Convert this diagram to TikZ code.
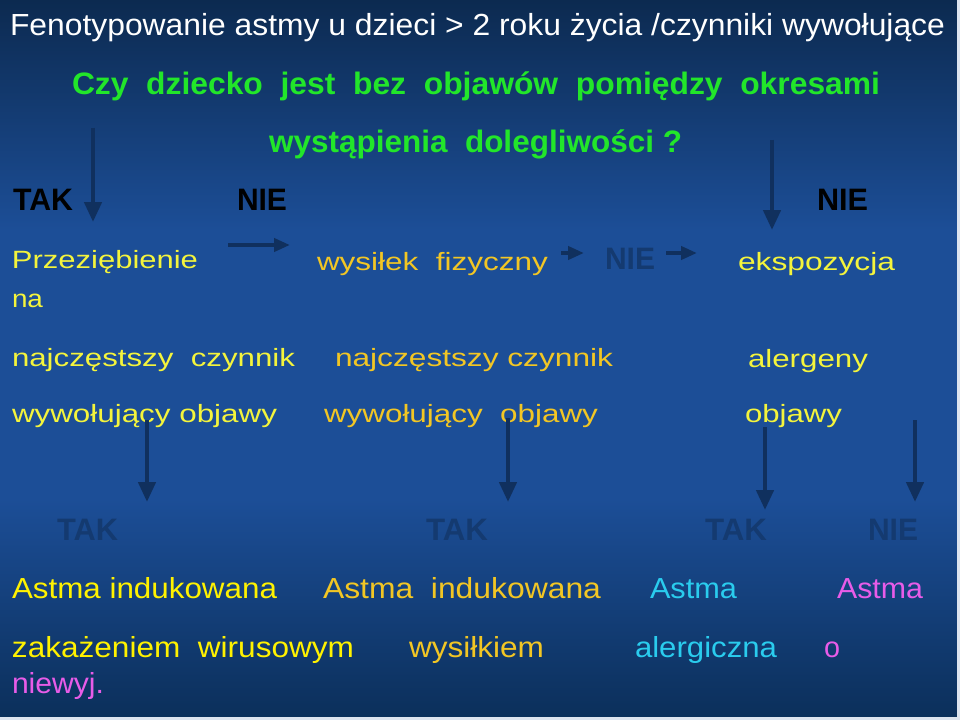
\documentclass[tikz,border=0pt]{standalone}
\usepackage{fontspec}
\setmainfont{Liberation Sans}
\usetikzlibrary{arrows.meta}
\definecolor{bgtop}{HTML}{0C2A50}
\definecolor{bgmid}{HTML}{1C4E97}
\definecolor{bgbot}{HTML}{0B2F5A}
\definecolor{qgreen}{HTML}{22E62A}
\definecolor{ylw}{HTML}{F4F43C}
\definecolor{gold}{HTML}{F2C624}
\definecolor{cyanx}{HTML}{2ACCEE}
\definecolor{violx}{HTML}{E85CE8}
\definecolor{darkarr}{HTML}{10305E}
\definecolor{darklbl}{HTML}{143A70}
\newcommand\fitw[2]{\resizebox{#1bp}{\height}{#2}}
\tikzset{
  txt/.style={anchor=base west, inner sep=0pt, outer sep=0pt},
  ttl/.style={txt, text=white, font=\fontsize{30.5bp}{36bp}\selectfont},
  qst/.style={txt, text=qgreen, font=\fontsize{31bp}{36bp}\selectfont\bfseries},
  yn/.style={txt, text=black, font=\fontsize{31bp}{36bp}\selectfont\bfseries},
  dyn/.style={txt, text=darklbl, font=\fontsize{31bp}{36bp}\selectfont\bfseries},
  up/.style={txt, font=\fontsize{25bp}{30bp}\selectfont},
  low/.style={txt, font=\fontsize{29bp}{34bp}\selectfont},
  varr/.style={draw=darkarr, line width=4.5bp, -{Triangle[width=17bp,length=20bp]}},
  harr/.style={draw=darkarr, line width=4bp, -{Triangle[width=13bp,length=16bp]}},
}
\begin{document}
\begin{tikzpicture}[x=1bp,y=-1bp]
% background
\useasboundingbox (0,0) rectangle (960,720);
\shade[top color=bgtop, bottom color=bgmid] (0,0) rectangle (960,230);
\fill[bgmid] (0,229) rectangle (960,500);
\shade[top color=bgmid, bottom color=bgbot] (0,499) rectangle (960,720);
\fill[white!85!bgmid] (957,0) rectangle (960,720);
\fill[white!85!bgmid] (0,717) rectangle (960,720);

% title and question
\node[ttl] (title) at (10,36) {\fitw{935}{Fenotypowanie astmy u dzieci > 2 roku życia /czynniki wywołujące}};
\node[qst] (q1) at (72,95) {\fitw{808}{Czy~ dziecko~ jest~ bez~ objawów~ pomiędzy~ okresami}};
\node[qst] (q2) at (269,153) {\fitw{413}{wystąpienia~ dolegliwości ?}};

% first level answers
\node[yn] (tak1) at (13,211) {\fitw{60}{TAK}};
\node[yn] (nie1) at (237,211) {\fitw{50}{NIE}};
\node[yn] (nie2) at (817,211) {\fitw{51}{NIE}};

\coordinate (va1) at (93,128); \coordinate (vb1) at (93,222);
\coordinate (va2) at (772,140); \coordinate (vb2) at (772,230);
\draw[varr] (va1) -- (vb1);
\draw[varr] (va2) -- (vb2);

% row with triggers
\node[up, text=ylw] (prz) at (12,268) {\fitw{186}{Przeziębienie}};
\node[up, text=ylw] (na) at (12,307) {\fitw{31}{na}};
\node[up, text=ylw] (naj1) at (12,366) {\fitw{283}{najczęstszy~ czynnik}};
\node[up, text=ylw] (wyw1) at (12,422) {\fitw{265}{wywołujący objawy}};

\node[up, text=gold] (wys) at (317,270) {\fitw{231}{wysiłek~ fizyczny}};
\node[up, text=gold] (naj2) at (335,366) {\fitw{278}{najczęstszy czynnik}};
\node[up, text=gold] (wyw2) at (324,422) {\fitw{274}{wywołujący~ objawy}};

\node[dyn] (nie3) at (605,269) {\fitw{50}{NIE}};

\node[up, text=ylw] (eks) at (738,270) {\fitw{157}{ekspozycja}};
\node[up, text=ylw] (ale) at (748,367) {\fitw{120}{alergeny}};
\node[up, text=ylw] (obj) at (745,422) {\fitw{97}{objawy}};

\coordinate (ha1) at (228,245); \coordinate (hb1) at (290,245);
\coordinate (ha2) at (561,253); \coordinate (hb2) at (584,253);
\coordinate (ha3) at (666,253); \coordinate (hb3) at (697,253);
\draw[harr] (ha1) -- (hb1);
\draw[harr] (ha2) -- (hb2);
\draw[harr] (ha3) -- (hb3);

% lower arrows
\coordinate (la1) at (147,420); \coordinate (lb1) at (147,502);
\coordinate (la2) at (508,418); \coordinate (lb2) at (508,502);
\coordinate (la3) at (765,427); \coordinate (lb3) at (765,510);
\coordinate (la4) at (915,420); \coordinate (lb4) at (915,502);
\draw[varr] (la1) -- (lb1);
\draw[varr] (la2) -- (lb2);
\draw[varr] (la3) -- (lb3);
\draw[varr] (la4) -- (lb4);

% lower answers
\node[dyn] (tak2) at (57,540) {\fitw{61}{TAK}};
\node[dyn] (tak3) at (426,540) {\fitw{62}{TAK}};
\node[dyn] (tak4) at (705,540) {\fitw{62}{TAK}};
\node[dyn] (nie4) at (868,540) {\fitw{50}{NIE}};

% phenotypes
\node[low, text=yellow] (a1) at (12,598) {\fitw{265}{Astma indukowana}};
\node[low, text=yellow] (a1b) at (12,657) {\fitw{342}{zakażeniem~ wirusowym}};
\node[low, text=gold] (a2) at (323,598) {\fitw{278}{Astma~ indukowana}};
\node[low, text=gold] (a2b) at (409,657) {\fitw{135}{wysiłkiem}};
\node[low, text=cyanx] (a3) at (650,598) {\fitw{87}{Astma}};
\node[low, text=cyanx] (a3b) at (635,657) {\fitw{142}{alergiczna}};
\node[low, text=violx] (a4) at (837,598) {\fitw{86}{Astma}};
\node[low, text=violx] (a4b) at (824,657) {\fitw{16}{o}};
\node[low, text=violx] (a4c) at (12,693) {\fitw{92}{niewyj.}};
\end{tikzpicture}
\end{document}
